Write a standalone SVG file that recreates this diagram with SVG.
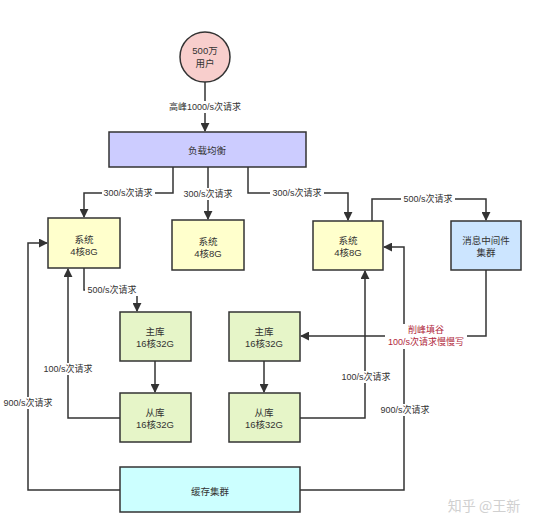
<svg xmlns="http://www.w3.org/2000/svg" width="538" height="526" viewBox="0 0 538 526">
<defs>
<marker id="arr" viewBox="0 0 10 10" refX="9" refY="5" markerWidth="9" markerHeight="9" markerUnits="userSpaceOnUse" orient="auto">
<path d="M0,0 L10,5 L0,10 Z" fill="#333"/>
</marker>
<style>
.box{stroke:#333;stroke-width:1.5}
.t{font-family:"Liberation Sans","Noto Sans CJK SC",sans-serif;font-size:9.5px;fill:#333;text-anchor:middle;dominant-baseline:central}
.l{font-family:"Liberation Sans","Noto Sans CJK SC",sans-serif;font-size:9px;fill:#333;text-anchor:middle;dominant-baseline:central}
.r{font-family:"Liberation Sans","Noto Sans CJK SC",sans-serif;font-size:9px;fill:#b0283c;text-anchor:middle;dominant-baseline:central}
.c{fill:none;stroke:#333;stroke-width:1.5}
.a{marker-end:url(#arr)}
.bg{fill:#fff}
</style>
</defs>
<rect width="538" height="526" fill="#fff"/>

<g id="connectors">
<path class="c a" d="M205,82 V131"/>
<path class="c a" d="M173,167 V193 H84 V217"/>
<path class="c a" d="M208,167 V219"/>
<path class="c a" d="M248,167 V193 H348 V220"/>
<path class="c a" d="M372,221 V199 H486 V220"/>
<path class="c a" d="M84,268 V290 H137 V311"/>
<path class="c a" d="M155,361 V392"/>
<path class="c a" d="M264,361 V392"/>
<path class="c a" d="M120,418 H68 V269"/>
<path class="c a" d="M120,490 H28 V243 H47"/>
<path class="c a" d="M300,418 H365 V271"/>
<path class="c a" d="M300,490 H404 V247 H384"/>
<path class="c a" d="M486,270 V336 H301"/>
<rect class="bg" x="166" y="101" width="78" height="12"/>
<text class="l" x="205" y="107">高峰1000/s次请求</text>
<rect class="bg" x="102" y="187" width="53" height="12"/>
<text class="l" x="128" y="193">300/s次请求</text>
<rect class="bg" x="181" y="188" width="54" height="12"/>
<text class="l" x="208" y="194">300/s次请求</text>
<rect class="bg" x="270" y="187" width="54" height="12"/>
<text class="l" x="297" y="193">300/s次请求</text>
<rect class="bg" x="401" y="193" width="54" height="12"/>
<text class="l" x="428" y="199">500/s次请求</text>
<rect class="bg" x="85" y="284" width="54" height="12"/>
<text class="l" x="112" y="290">500/s次请求</text>
<rect class="bg" x="41" y="363" width="54" height="12"/>
<text class="l" x="68" y="369">100/s次请求</text>
<rect class="bg" x="1" y="397" width="54" height="12"/>
<text class="l" x="28" y="403">900/s次请求</text>
<rect class="bg" x="339" y="371" width="54" height="12"/>
<text class="l" x="366" y="377">100/s次请求</text>
<rect class="bg" x="378" y="404" width="54" height="12"/>
<text class="l" x="405" y="410">900/s次请求</text>
<rect class="bg" x="385" y="324" width="82" height="25"/>
<text class="r" x="426" y="330">削峰填谷</text>
<text class="r" x="426" y="342">100/s次请求慢慢写</text>
</g>

<g id="users">
<circle class="box" cx="205" cy="57" r="25" fill="#f8cecc"/>
<text class="t" x="205" y="50">500万</text>
<text class="t" x="205" y="63">用户</text>
</g>
<g id="lb">
<rect class="box" x="109" y="132" width="197" height="35" fill="#ccccff"/>
<text class="t" x="207" y="150">负载均衡</text>
</g>
<g id="sys1">
<rect class="box" x="48" y="218" width="72" height="50" fill="#ffffcc"/>
<text class="t" x="84" y="239">系统</text>
<text class="t" x="84" y="251">4核8G</text>
</g>
<g id="sys2">
<rect class="box" x="172" y="220" width="72" height="50" fill="#ffffcc"/>
<text class="t" x="208" y="241">系统</text>
<text class="t" x="208" y="253">4核8G</text>
</g>
<g id="sys3">
<rect class="box" x="313" y="221" width="70" height="49" fill="#ffffcc"/>
<text class="t" x="348" y="240">系统</text>
<text class="t" x="348" y="252">4核8G</text>
</g>
<g id="mq">
<rect class="box" x="451" y="221" width="70" height="49" fill="#cce5ff"/>
<text class="t" x="486" y="240">消息中间件</text>
<text class="t" x="486" y="252">集群</text>
</g>
<g id="master1">
<rect class="box" x="120" y="312" width="71" height="49" fill="#e6f5c8"/>
<text class="t" x="155" y="331">主库</text>
<text class="t" x="155" y="343">16核32G</text>
</g>
<g id="slave1">
<rect class="box" x="120" y="393" width="71" height="49" fill="#e6f5c8"/>
<text class="t" x="155" y="412">从库</text>
<text class="t" x="155" y="424">16核32G</text>
</g>
<g id="master2">
<rect class="box" x="229" y="312" width="71" height="49" fill="#e6f5c8"/>
<text class="t" x="264" y="331">主库</text>
<text class="t" x="264" y="343">16核32G</text>
</g>
<g id="slave2">
<rect class="box" x="229" y="393" width="71" height="49" fill="#e6f5c8"/>
<text class="t" x="264" y="412">从库</text>
<text class="t" x="264" y="424">16核32G</text>
</g>
<g id="cache">
<rect class="box" x="120" y="467" width="180" height="45" fill="#ccffff"/>
<text class="t" x="210" y="491">缓存集群</text>
</g>
<text x="484" y="511" font-family="'Noto Sans CJK SC',sans-serif" font-size="14" fill="#d0d0d0" text-anchor="middle">知乎 @王新</text>
</svg>
